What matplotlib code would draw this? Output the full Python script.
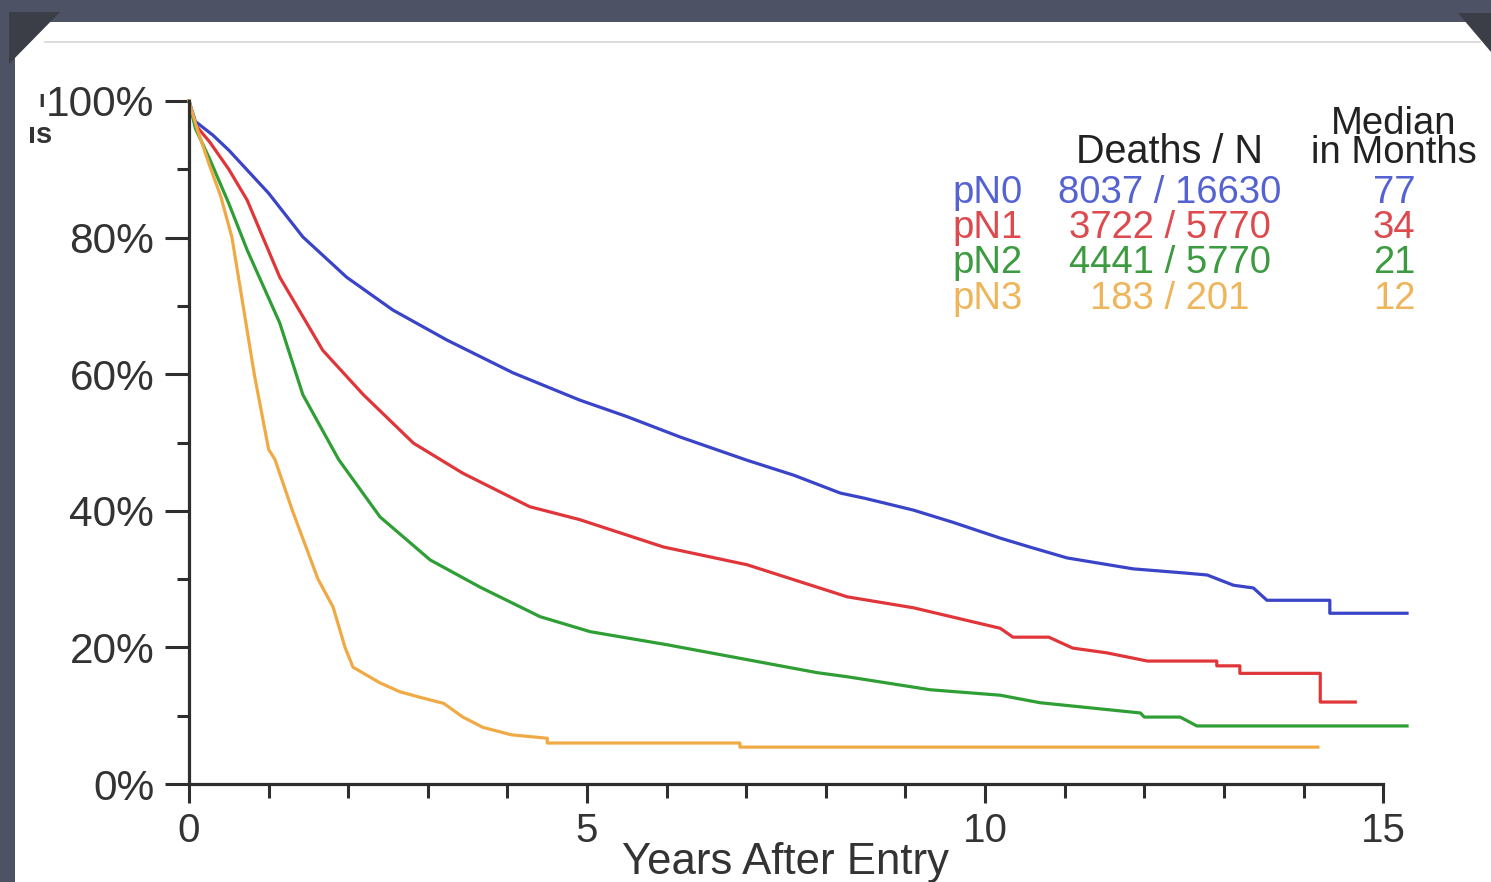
import matplotlib
matplotlib.use("Agg")
import matplotlib.pyplot as plt
from matplotlib.patches import Rectangle, Polygon
from matplotlib.lines import Line2D

plt.rcParams['font.family'] = ['Liberation Sans', 'DejaVu Sans']

# ---------------- data ----------------
groups = ['pN0', 'pN1', 'pN2', 'pN3']
deaths = [8037, 3722, 4441, 183]
totals = [16630, 5770, 5770, 201]
medians = [77, 34, 21, 12]

t_pn0 = [0, 0.08, 0.3, 0.5, 0.73, 1.0, 1.43, 1.98, 2.56, 3.24, 4.07, 4.91, 5.5, 6.17, 7.01, 7.6,
         8.18, 8.5, 9.1, 9.6, 10.19, 10.56, 11.03, 11.86, 12.5, 12.79, 13.12, 13.37, 13.54,
         14.33, 14.33, 15.3]
s_pn0 = [100, 97.0, 95.0, 92.8, 89.9, 86.5, 80.1, 74.2, 69.4, 65.0, 60.2, 56.2, 53.8, 50.8, 47.4, 45.2,
         42.6, 41.8, 40.1, 38.3, 36.0, 34.7, 33.1, 31.5, 30.9, 30.6, 29.1, 28.7, 26.9,
         26.9, 25.0, 25.0]

t_pn1 = [0, 0.08, 0.26, 0.5, 0.73, 1.14, 1.68, 2.19, 2.82, 3.44, 4.28, 4.91, 5.96, 7.01, 8.27, 9.1,
         10.19, 10.35, 10.8, 11.1, 11.53, 12.04, 12.91, 12.91, 13.2, 13.2, 14.21, 14.21, 14.65]
s_pn1 = [100, 96.5, 94.0, 90.0, 85.5, 74.2, 63.5, 57.0, 49.9, 45.5, 40.6, 38.7, 34.7, 32.1, 27.4, 25.8,
         22.8, 21.5, 21.5, 19.9, 19.2, 18.0, 18.0, 17.3, 17.3, 16.2, 16.2, 12.0, 12.0]

t_pn2 = [0, 0.08, 0.26, 0.5, 0.73, 1.14, 1.43, 1.88, 2.4, 3.03, 3.66, 4.41, 5.04, 6.0, 6.83, 7.89,
         8.27, 9.31, 10.19, 10.69, 11.95, 12.0, 12.45, 12.66, 15.3]
s_pn2 = [100, 96.0, 91.5, 85.0, 78.2, 67.5, 57.0, 47.5, 39.1, 32.8, 28.8, 24.5, 22.3, 20.4, 18.6, 16.3,
         15.7, 13.8, 13.0, 11.9, 10.4, 9.8, 9.8, 8.5, 8.5]

t_pn3 = [0, 0.1, 0.26, 0.4, 0.54, 0.68, 0.82, 1.0, 1.08, 1.3, 1.62, 1.81, 1.96, 2.06, 2.4, 2.65,
         2.9, 3.2, 3.44, 3.69, 4.05, 4.5, 4.5, 6.92, 6.92, 14.18]
s_pn3 = [100, 96.0, 90.5, 86.0, 80.0, 70.0, 60.0, 49.0, 47.5, 40.0, 30.0, 25.9, 20.0, 17.1, 14.8,
         13.5, 12.7, 11.8, 9.8, 8.3, 7.2, 6.7, 6.0, 6.0, 5.4, 5.4]

x_major = [0, 5, 10, 15]
y_major = [0, 20, 40, 60, 80, 100]
y_labels = ['0%', '20%', '40%', '60%', '80%', '100%']

curve_colors = ['#3a44c8', '#e0363a', '#2f9e35', '#f0aa45']
text_colors = ['#5563d2', '#dc4a4e', '#3c9a40', '#eeb55a']

# ---------------- figure ----------------
W, H = 1491, 882
fig = plt.figure(figsize=(W / 100, H / 100), dpi=100)
fig.patch.set_facecolor('#4d5364')

def fx(x):
    return x / W

def fy(y):
    return 1 - y / H

# white slide panel
fig.patches.append(Rectangle((fx(15), 0), fx(W - 15), 1 - 22 / H, transform=fig.transFigure,
                             facecolor='white', edgecolor='none', zorder=-10))
# thin rule near the top of the panel
fig.lines.append(Line2D([fx(45), fx(1480)], [fy(42), fy(42)], transform=fig.transFigure,
                        color='#d6d6d6', lw=1.2, zorder=-9))
# dark photo-corner decorations
fig.patches.append(Polygon([(fx(9), fy(12)), (fx(60), fy(12)), (fx(9), fy(64))], closed=True,
                           transform=fig.transFigure, facecolor='#3b3e46', edgecolor='none',
                           zorder=-8))
fig.patches.append(Polygon([(fx(1458), fy(13)), (fx(1491), fy(13)), (fx(1491), fy(52))], closed=True,
                           transform=fig.transFigure, facecolor='#3b3e46', edgecolor='none',
                           zorder=-8))

ax = fig.add_axes([fx(189), fy(784), (1415 - 189) / W, (784 - 101) / H])
ax.set_zorder(5)
ax.set_facecolor('none')
ax.set_xlim(0, 15.4)
ax.set_ylim(0, 100)

for sp in ['top', 'right']:
    ax.spines[sp].set_visible(False)
for sp in ['left', 'bottom']:
    ax.spines[sp].set_color('#2e2e2e')
    ax.spines[sp].set_linewidth(2.3)
ax.spines['bottom'].set_bounds(0, 15)

ax.set_xticks(x_major)
ax.set_xticklabels([str(v) for v in x_major])
ax.set_xticks(range(0, 16), minor=True)
ax.set_yticks(y_major)
ax.set_yticklabels(y_labels)
ax.set_yticks(range(0, 101, 10), minor=True)

ax.tick_params(axis='y', which='major', direction='out', length=17, width=2.2,
               color='#2e2e2e', labelsize=30.5, labelcolor='#333333', pad=8)
ax.tick_params(axis='y', which='minor', direction='out', length=9, width=2.2, color='#2e2e2e')
ax.tick_params(axis='x', which='major', direction='out', length=14, width=2.2,
               color='#2e2e2e', labelsize=29, labelcolor='#333333', pad=6)
ax.tick_params(axis='x', which='minor', direction='out', length=10, width=2.2, color='#2e2e2e')

series = [(t_pn0, s_pn0), (t_pn1, s_pn1), (t_pn2, s_pn2), (t_pn3, s_pn3)]
for (tt, ss), c in zip(series, curve_colors):
    ax.plot(tt, ss, color=c, lw=2.3, clip_on=False, solid_joinstyle='round')

ax.set_xlabel('Years After Entry', fontsize=31.5, color='#333333')
ax.xaxis.label.set_va('baseline')
ax.xaxis.set_label_coords(fx(785), fy(874), transform=fig.transFigure)

# legend-like table
fs = 27.5
fig.text(fx(1394), fy(163), 'Median\nin Months', fontsize=fs, color='#222222', ha='center',
         va='baseline', multialignment='center', linespacing=0.74, zorder=6)
fig.text(fx(1170), fy(163), 'Deaths / N', fontsize=28.5, color='#222222', ha='center', va='baseline',
         zorder=6)
row_base = [203, 238, 273, 309]
for g, d, n, m, c, yb in zip(groups, deaths, totals, medians, text_colors, row_base):
    fig.text(fx(952), fy(yb), g, fontsize=fs, color=c, ha='left', va='baseline', zorder=6)
    fig.text(fx(1170), fy(yb), f'{d} / {n}', fontsize=fs, color=c, ha='center', va='baseline',
             zorder=6)
    fig.text(fx(1394), fy(yb), str(m), fontsize=fs, color=c, ha='center', va='baseline', zorder=6)

# cropped remnants of an axis title at the left edge
fig.text(fx(28), fy(143), '\u0131s', fontsize=21, color='#333333', ha='left', va='baseline',
         fontweight='bold', zorder=6)
fig.text(fx(38), fy(107), '\u0131', fontsize=17, color='#333333', ha='left', va='baseline',
         fontweight='bold', zorder=6)

fig.savefig('out.png', dpi=100, facecolor=fig.get_facecolor())
